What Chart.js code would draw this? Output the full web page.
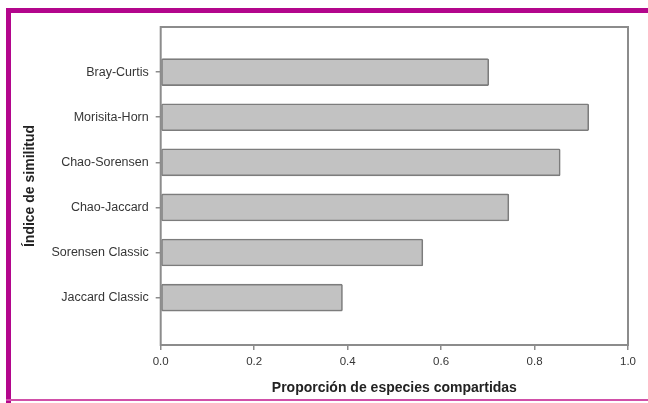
<!DOCTYPE html>
<html>
<head>
<meta charset="utf-8">
<script src="https://cdn.jsdelivr.net/npm/chart.js@4/dist/chart.umd.min.js"></script>
<style>
html,body{margin:0;padding:0;background:#fff;}
#wrap{width:648px;height:403px;position:relative;}
</style>
</head>
<body>
<div id="wrap"><canvas id="c" width="648" height="403"></canvas></div>
<script>
const categories = ["Bray-Curtis","Morisita-Horn","Chao-Sorensen","Chao-Jaccard","Sorensen Classic","Jaccard Classic"];
const values = [0.702, 0.916, 0.855, 0.745, 0.561, 0.389];
const xTicks = [0.0, 0.2, 0.4, 0.6, 0.8, 1.0];
const xTitle = "Proporción de especies compartidas";
const yTitle = "Índice de similitud";

const points = categories.map((c, i) => ({x: values[i], y: i}));

const framePlugin = {
  id: 'frame',
  beforeDraw(chart) {
    const ctx = chart.ctx;
    ctx.save();
    ctx.fillStyle = '#b3068c';
    ctx.fillRect(6, 8, 642, 5);
    ctx.fillRect(6, 8, 5, 395);
    ctx.fillStyle = '#d050a8';
    ctx.fillRect(6, 399, 642, 2);
    ctx.restore();
  },
  afterDatasetsDraw(chart) {
    const {left, right, top, bottom} = chart.chartArea;
    const ctx = chart.ctx;
    ctx.save();
    ctx.strokeStyle = '#8c8c8c';
    ctx.lineWidth = 2;
    ctx.strokeRect(left, top, right - left, bottom - top);
    ctx.restore();
  }
};

new Chart(document.getElementById('c'), {
  type: 'bar',
  data: {
    datasets: [{
      data: points,
      backgroundColor: '#c2c2c2',
      borderColor: '#7c7c7c',
      borderWidth: 1.6,
      borderSkipped: false,
      borderRadius: 1.5,
      barThickness: 27
    }]
  },
  plugins: [framePlugin],
  options: {
    indexAxis: 'y',
    responsive: false,
    animation: false,
    layout: {padding: {left: 16, top: 27, right: 20, bottom: 0}},
    plugins: {legend: {display: false}, tooltip: {enabled: false}},
    font: {family: "'Liberation Sans', Arial, sans-serif"},
    scales: {
      x: {
        type: 'linear',
        min: 0, max: 1,
        offset: false,
        afterFit(s) { s.height = 58; },
        afterBuildTicks(s) { s.ticks = xTicks.map(v => ({value: v})); },
        ticks: {
          callback: v => Number(v).toFixed(1),
          font: {family: "'Liberation Sans', Arial, sans-serif", size: 11.5},
          color: '#363636',
          padding: 5,
          maxRotation: 0
        },
        grid: {display: true, offset: false, drawOnChartArea: false, drawTicks: true, tickLength: 5, color: '#8c8c8c', lineWidth: 1.5},
        border: {display: false},
        title: {
          display: true, text: xTitle, color: '#222',
          font: {family: "'Liberation Sans', Arial, sans-serif", size: 14, weight: 'bold'},
          padding: {top: 4, bottom: 6}
        }
      },
      y: {
        type: 'linear',
        reverse: true,
        min: -1, max: 6.05,
        offset: false,
        afterFit(s) { s.width = 160.7 - 16; },
        afterBuildTicks(s) { s.ticks = categories.map((c, i) => ({value: i})); },
        ticks: {
          callback: v => categories[v],
          font: {family: "'Liberation Sans', Arial, sans-serif", size: 12.5},
          color: '#363636',
          padding: 7
        },
        grid: {display: true, offset: false, drawOnChartArea: false, drawTicks: true, tickLength: 5, color: '#8c8c8c', lineWidth: 1.5},
        border: {display: false},
        title: {
          display: true, text: yTitle, color: '#222',
          font: {family: "'Liberation Sans', Arial, sans-serif", size: 14, weight: 'bold'},
          padding: {top: 6, bottom: 4}
        }
      }
    }
  }
});
</script>
</body>
</html>
